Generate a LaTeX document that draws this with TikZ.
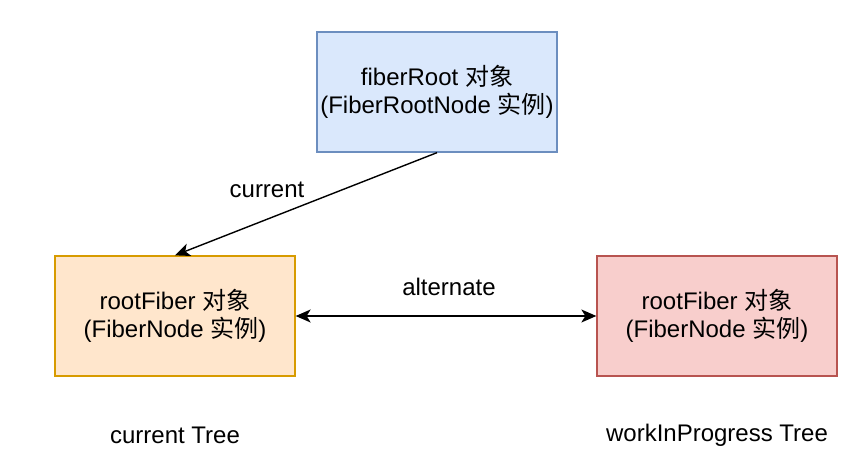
\documentclass[tikz,border=0pt]{standalone}
\usepackage{fontspec}
\setmainfont{Liberation Sans}
\newfontfamily\cjk{Noto Sans CJK SC}
\definecolor{rootblue}{HTML}{DAE8FC}
\definecolor{rootbluedraw}{HTML}{6C8EBF}
\definecolor{curorange}{HTML}{FFE6CC}
\definecolor{curorangedraw}{HTML}{D79B00}
\definecolor{wipred}{HTML}{F8CECC}
\definecolor{wipreddraw}{HTML}{B85450}
\usetikzlibrary{arrows.meta, positioning}

\tikzset{
  fiberbox/.style={draw, line width=1.3pt, minimum width=240pt, minimum height=120pt, align=center, inner sep=0pt, font=\fontsize{24}{28.5}\selectfont},
  lbl/.style={font=\fontsize{24}{28.5}\selectfont},
  ptr/.style={line width=1.4pt, >={Stealth[length=15pt, width=13pt, inset=4pt]}}
}

\begin{document}
\begin{tikzpicture}[x=1pt, y=1pt]
  \useasboundingbox (0,0) rectangle (858,466);

  % Boxes
  \node[fiberbox, draw=rootbluedraw, fill=rootblue] (fiberroot) at (437, 374) {fiberRoot {\cjk 对象}\\(FiberRootNode {\cjk 实例})};
  \node[fiberbox, draw=curorangedraw, fill=curorange] (currentfiber) at (175, 150) {rootFiber {\cjk 对象}\\(FiberNode {\cjk 实例})};
  \node[fiberbox, draw=wipreddraw, fill=wipred] (wipfiber) at (717, 150) {rootFiber {\cjk 对象}\\(FiberNode {\cjk 实例})};

  % Pointers
  \draw[ptr, ->] (fiberroot.south) -- (currentfiber.north);
  \draw[ptr, <->] (currentfiber.east) -- (wipfiber.west);

  % Labels
  \node[lbl] (currentlbl) at (267, 276) {current};
  \node[lbl] (alternatelbl) at (449, 179) {alternate};
  \node[lbl] (currenttree) at (175, 31) {current Tree};
  \node[lbl] (wiptree) at (717, 31) {workInProgress Tree};
\end{tikzpicture}
\end{document}
